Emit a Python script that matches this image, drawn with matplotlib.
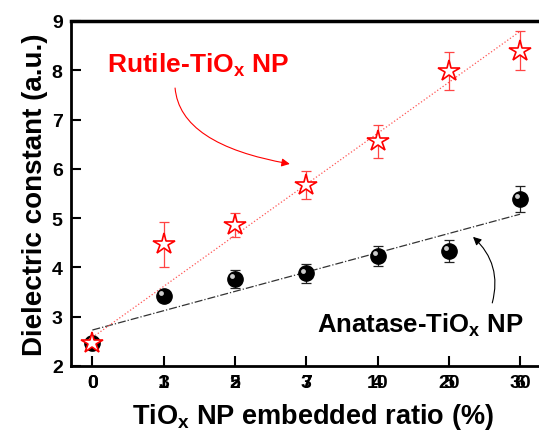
import matplotlib
matplotlib.use("Agg")
import matplotlib.pyplot as plt
from matplotlib.transforms import offset_copy

plt.rcParams['font.family'] = ['Liberation Sans', 'DejaVu Sans']
plt.rcParams['mathtext.fontset'] = 'custom'
plt.rcParams['mathtext.rm'] = 'Liberation Sans:bold'
plt.rcParams['mathtext.it'] = 'Liberation Sans:bold'
plt.rcParams['mathtext.bf'] = 'Liberation Sans:bold'

# data
ratios = ['0', '3', '5', '7', '10', '20', '30']
idx_labels = ['0', '1', '2', '3', '4', '5', '6']
rutile = [2.47, 4.47, 4.86, 5.67, 6.56, 7.99, 8.40]
rutile_err = [0.0, 0.46, 0.25, 0.28, 0.33, 0.39, 0.40]
anatase = [2.47, 3.42, 3.76, 3.88, 4.23, 4.33, 5.39]
anatase_err = [0.0, 0.10, 0.18, 0.19, 0.21, 0.22, 0.26]
rutile_fit = [2.58, 8.79]   # fit line at first / last point
anatase_fit = [2.73, 5.08]

x = list(range(len(ratios)))
fit_x = [x[0], x[-1]]

fig = plt.figure(figsize=(5.39, 4.39), dpi=100)
ax = fig.add_axes([71 / 539, 72 / 439, 1.031 - 71 / 539, 345 / 439])

# fit lines
ax.plot(fit_x, anatase_fit, color='#333333', lw=0.9, ls='-.', zorder=1)
ax.plot(fit_x, rutile_fit, color='#ff5555', lw=0.9, ls=':', zorder=1)

# anatase: black balls
ax.errorbar(x, anatase, yerr=anatase_err, fmt='none', ecolor='#222222',
            elinewidth=0.9, capsize=3.5, capthick=0.9, zorder=2)
ax.plot(x, anatase, 'o', ms=11, color='black', zorder=3)
hl = offset_copy(ax.transData, fig=fig, x=-2, y=2, units='points')
ax.plot(x, anatase, 'o', ms=3.5, color='#cccccc', mec='none', transform=hl, zorder=4)

# rutile: open red stars
ax.errorbar(x, rutile, yerr=rutile_err, fmt='none', ecolor='#ff4444',
            elinewidth=0.9, capsize=3.5, capthick=0.9, zorder=5)
ax.plot(x, rutile, '*', ms=16, mfc='white', mec='red', mew=1.2, zorder=6)

ax.set_xlim(-0.3, 6.5)
ax.set_ylim(2, 9)
ax.set_xticks(x)
ax.set_xticklabels(ratios)
ax.set_yticks(range(2, 10))
ax.tick_params(direction='in', length=7, width=1.5, labelsize=14, pad=6)
for lab in ax.get_xticklabels() + ax.get_yticklabels():
    lab.set_fontweight('bold')
for s in ax.spines.values():
    s.set_linewidth(2)
ax.spines['top'].set_linewidth(2.5)

# second set of labels printed on top of the first (as in the original)
sec = ax.secondary_xaxis('bottom')
sec.set_xticks(x)
sec.set_xticklabels(idx_labels)
sec.tick_params(direction='in', length=7, width=0, labelsize=14, pad=6)
sec.spines['bottom'].set_visible(False)
for lab in sec.get_xticklabels():
    lab.set_fontweight('bold')

ax.set_ylabel('Dielectric constant (a.u.)', fontsize=20, fontweight='bold', labelpad=3)
ax.set_xlabel('TiO$_\\mathrm{x}$ NP embedded ratio (%)', fontsize=19.5, fontweight='bold', labelpad=7)

ax.text(1.49, 7.97, 'Rutile-TiO$_\\mathrm{x}$ NP', color='red', fontsize=19,
        fontweight='bold', ha='center', va='baseline')
ax.text(4.6, 2.69, 'Anatase-TiO$_\\mathrm{x}$ NP', color='black', fontsize=18.5,
        fontweight='bold', ha='center', va='baseline')

ax.annotate('', xy=(2.77, 6.1), xytext=(1.16, 7.64),
            arrowprops=dict(arrowstyle='-|>', color='red', lw=0.8, mutation_scale=12,
                            connectionstyle='angle3,angleA=95,angleB=-10',
                            shrinkA=0, shrinkB=0))
ax.annotate('', xy=(5.34, 4.62), xytext=(5.61, 3.28),
            arrowprops=dict(arrowstyle='-|>', color='black', lw=0.8, mutation_scale=12,
                            connectionstyle='arc3,rad=0.3',
                            shrinkA=0, shrinkB=0))

fig.savefig('out.png', dpi=100)
